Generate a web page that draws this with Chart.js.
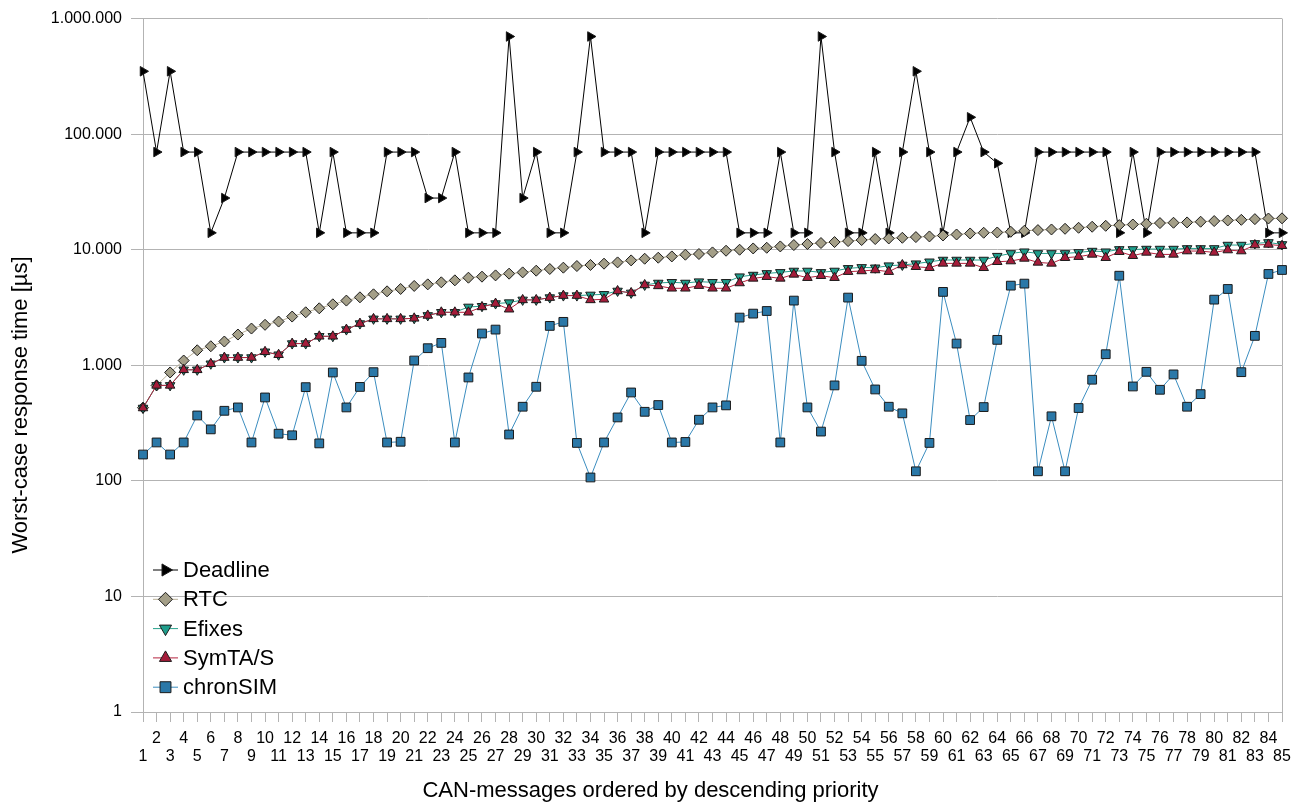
<!DOCTYPE html>
<html>
<head>
<meta charset="utf-8">
<script src="https://cdn.jsdelivr.net/npm/chart.js@4.4.1/dist/chart.umd.min.js"></script>
<style>
  html, body { margin: 0; padding: 0; background: #fff; }
  #chart { display: block; }
</style>
</head>
<body>
<canvas id="chart" width="1301" height="810"></canvas>
<script>
// messages 1..85 (priority order)
const categories = Array.from({ length: 85 }, (_, i) => String(i + 1));

const yTickValues = [1, 10, 100, 1000, 10000, 100000, 1000000];
const yTickLabels = ['1', '10', '100', '1.000', '10.000', '100.000', '1.000.000'];

const xTitle = 'CAN-messages ordered by descending priority';
const yTitle = 'Worst-case response time [µs]';

const deadline = [
  350000, 70000, 350000, 70000, 70000, 14000, 28000, 70000, 70000, 70000,
  70000, 70000, 70000, 14000, 70000, 14000, 14000, 14000, 70000, 70000,
  70000, 28000, 28000, 70000, 14000, 14000, 14000, 700000, 28000, 70000,
  14000, 14000, 70000, 700000, 70000, 70000, 70000, 14000, 70000, 70000,
  70000, 70000, 70000, 70000, 14000, 14000, 14000, 70000, 14000, 14000,
  700000, 70000, 14000, 14000, 70000, 14000, 70000, 350000, 70000, 14000,
  70000, 140000, 70000, 56000, 14000, 14000, 70000, 70000, 70000, 70000,
  70000, 70000, 14000, 70000, 14000, 70000, 70000, 70000, 70000, 70000,
  70000, 70000, 70000, 14000, 14000
];

const rtc = [
  430, 670, 867, 1100, 1349, 1462, 1606, 1846, 2080, 2240,
  2390, 2640, 2875, 3113, 3371, 3630, 3875, 4113, 4365, 4575,
  4860, 5015, 5224, 5434, 5728, 5848, 5998, 6206, 6368, 6588,
  6813, 6995, 7229, 7380, 7575, 7770, 8085, 8360, 8530, 8752,
  9055, 9180, 9480, 9800, 10000, 10260, 10400, 10680, 10980, 11200,
  11430, 11650, 11880, 12130, 12370, 12520, 12690, 12870, 13030, 13290,
  13550, 13830, 14030, 14100, 14300, 14590, 14790, 14970, 15180, 15490,
  15810, 16110, 16330, 16530, 16780, 17010, 17120, 17230, 17470, 17710,
  17920, 18150, 18400, 18630, 18700
];

const efixes = [
  427, 670, 670, 914, 914, 1031, 1167, 1167, 1167, 1309,
  1234, 1542, 1542, 1782, 1782, 2037, 2296, 2522, 2522, 2522,
  2550, 2700, 2875, 2875, 3199, 3243, 3422, 3487, 3680, 3680,
  3854, 4011, 4011, 4064, 4113, 4397, 4229, 4956, 5155, 5226,
  5155, 5295, 5226, 5226, 5848, 6040, 6240, 6370, 6550, 6550,
  6370, 6550, 6900, 7035, 6980, 7280, 7380, 7575, 7870, 8150,
  8150, 8150, 8150, 8800, 9290, 9610, 9290, 9290, 9290, 9480,
  9740, 9610, 10060, 10060, 10140, 10140, 10140, 10260, 10260, 10260,
  10980, 10980, 11340, 11560, 11110
];

const symtas = [
  427, 670, 670, 914, 914, 1031, 1167, 1167, 1167, 1309,
  1234, 1542, 1542, 1782, 1782, 2037, 2296, 2522, 2522, 2522,
  2550, 2700, 2875, 2875, 2875, 3200, 3422, 3055, 3680, 3680,
  3854, 4011, 4011, 3680, 3726, 4397, 4229, 4956, 4864, 4637,
  4637, 4890, 4637, 4637, 5155, 5650, 5848, 5650, 6120, 5728,
  5960, 5728, 6460, 6550, 6680, 6460, 7380, 7130, 6980, 7620,
  7620, 7620, 6980, 7870, 7980, 8410, 7770, 7620, 8530, 8710,
  9110, 8530, 9610, 8875, 9480, 9110, 9110, 9740, 9740, 9480,
  9940, 9740, 10980, 11110, 10830
];

const chronsim = [
  169, 215, 169, 215, 368, 279, 404, 432, 215, 527,
  256, 248, 647, 211, 867, 432, 650, 872, 215, 218,
  1100, 1406, 1563, 215, 785, 1884, 2037, 252, 438, 652,
  2192, 2376, 213, 107, 215, 354, 582, 396, 453, 215,
  217, 338, 432, 450, 2587, 2800, 2950, 215, 3630, 432,
  267, 670, 3854, 1093, 618, 438, 384, 121, 213, 4317,
  1542, 336, 435, 1660, 4890, 5090, 121, 362, 121, 427,
  750, 1247, 5960, 656, 878, 614, 834, 438, 563, 3700,
  4575, 872, 1798, 6170, 6680
];

const FONT = '"Liberation Sans", Arial, sans-serif';
const gridGrey = '#b3b3b3';

const series = (label, data, line, fill, pointStyle, rotation, radius, order) => ({
  label,
  data,
  borderColor: line,
  borderWidth: 1,
  backgroundColor: fill,
  pointBackgroundColor: fill,
  pointBorderColor: '#1a1a1a',
  pointBorderWidth: 1,
  pointStyle,
  rotation,
  pointRadius: radius,
  tension: 0,
  fill: false,
  order
});

// legend drawn inside the plot, bottom-left, line + marker + text
const insideLegend = {
  id: 'insideLegend',
  afterDraw(chart) {
    const { ctx, chartArea } = chart;
    const x0 = chartArea.left + 10;
    let y = chartArea.bottom - 142;
    chart.data.datasets.forEach(ds => {
      ctx.save();
      ctx.strokeStyle = ds.borderColor;
      ctx.lineWidth = 1;
      ctx.beginPath();
      ctx.moveTo(x0, y);
      ctx.lineTo(x0 + 25, y);
      ctx.stroke();
      ctx.fillStyle = ds.pointBackgroundColor;
      ctx.strokeStyle = ds.pointBorderColor;
      Chart.helpers.drawPoint(ctx, {
        pointStyle: ds.pointStyle,
        rotation: ds.rotation,
        radius: ds.pointRadius + 1.5,
        borderWidth: 1
      }, x0 + 12.5, y);
      ctx.fillStyle = '#000';
      ctx.font = '22px ' + FONT;
      ctx.textBaseline = 'middle';
      ctx.fillText(ds.label, x0 + 30, y + 1);
      ctx.restore();
      y += 29.3;
    });
  }
};

// right edge of the plot frame
const frame = {
  id: 'frame',
  beforeDatasetsDraw(chart) {
    const { ctx, chartArea } = chart;
    ctx.save();
    ctx.strokeStyle = gridGrey;
    ctx.lineWidth = 1;
    ctx.beginPath();
    ctx.moveTo(Math.round(chartArea.right) + 0.5, chartArea.top);
    ctx.lineTo(Math.round(chartArea.right) + 0.5, chartArea.bottom);
    ctx.stroke();
    ctx.restore();
  }
};

// axis titles are centred on the whole canvas, not on the plot
const axisTitles = {
  id: 'axisTitles',
  afterDraw(chart) {
    const { ctx, width, height } = chart;
    ctx.save();
    ctx.fillStyle = '#000';
    ctx.font = '22px ' + FONT;
    ctx.textAlign = 'center';
    ctx.textBaseline = 'middle';
    ctx.fillText(xTitle, width / 2, height - 19);
    ctx.translate(21, height / 2);
    ctx.rotate(-Math.PI / 2);
    ctx.fillText(yTitle, 0, 0);
    ctx.restore();
  }
};

const ctx = document.getElementById('chart').getContext('2d');

new Chart(ctx, {
  type: 'line',
  data: {
    labels: categories,
    datasets: [
      series('Deadline', deadline, '#000000', '#000000', 'triangle', 90, 5.5, 5),
      series('RTC', rtc, '#b9b097', '#a49f88', 'rectRot', 0, 5.5, 4),
      series('Efixes', efixes, '#27a08c', '#1f9e8c', 'triangle', 180, 5.5, 3),
      series('SymTA/S', symtas, '#b5243f', '#a51c3a', 'triangle', 0, 5.5, 2),
      series('chronSIM', chronsim, '#3b8dbf', '#2a78a8', 'rect', 0, 6.2, 1)
    ]
  },
  options: {
    responsive: false,
    animation: false,
    devicePixelRatio: 1,
    layout: { padding: { top: 17, right: 19, left: 0, bottom: 0 } },
    plugins: {
      legend: { display: false },
      tooltip: { enabled: false }
    },
    scales: {
      x: {
        type: 'category',
        offset: false,
        grid: { display: true, drawOnChartArea: false, drawTicks: true, tickLength: 10, color: gridGrey },
        border: { color: gridGrey },
        ticks: {
          autoSkip: false,
          maxRotation: 0,
          minRotation: 0,
          padding: 8,
          color: '#000',
          font: { family: FONT, size: 16, lineHeight: 1.1 },
          callback: (value, index) => index % 2 === 1 ? [categories[index], ''] : ['', categories[index]]
        },
        afterFit: (scale) => { scale.height = 98; }
      },
      y: {
        type: 'logarithmic',
        min: 1,
        max: 1000000,
        grid: { color: gridGrey, tickLength: 12 },
        border: { color: gridGrey },
        afterBuildTicks: (scale) => { scale.ticks = yTickValues.map(v => ({ value: v })); },
        ticks: {
          padding: 9,
          color: '#000',
          font: { family: FONT, size: 16 },
          callback: (value, index) => yTickLabels[index]
        },
        afterFit: (scale) => { scale.width = 143; }
      }
    }
  },
  plugins: [frame, insideLegend, axisTitles]
});
</script>
</body>
</html>
